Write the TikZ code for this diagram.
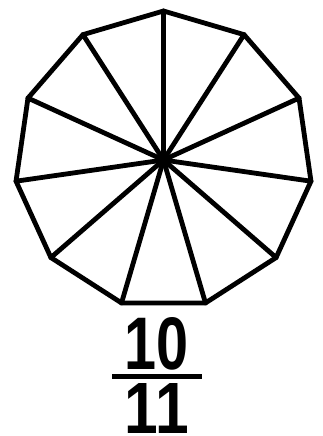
\documentclass[tikz,border=0pt]{standalone}
\usepackage{fontspec}
\setmainfont{Liberation Sans}
\usetikzlibrary{calc}
\begin{document}
\begin{tikzpicture}[x=1pt,y=1pt,
  edge/.style={line width=4.8pt,line join=miter,line cap=round},
  numtxt/.style={inner sep=0pt,font=\bfseries}]
\useasboundingbox (0,0) rectangle (323,436);
\coordinate (c) at (163.5,276);
\foreach \i in {0,...,10}{
  \coordinate (v\i) at ($(c)+({90+\i*360/11}:149)$);
}
\draw[edge] (v0) \foreach \i in {1,...,10}{ -- (v\i)} -- cycle;
\foreach \i in {0,...,10}{ \draw[edge] (c) -- (v\i); }
\node[numtxt,anchor=north] (num) at (157,119) {\resizebox{64pt}{52pt}{10}};
\coordinate (b1) at (112,59);
\coordinate (b2) at (202,59);
\draw[line width=5pt] (b1) -- (b2);
\node[numtxt,anchor=north] (den) at (157,53) {\resizebox{64pt}{50pt}{11}};
\end{tikzpicture}
\end{document}
